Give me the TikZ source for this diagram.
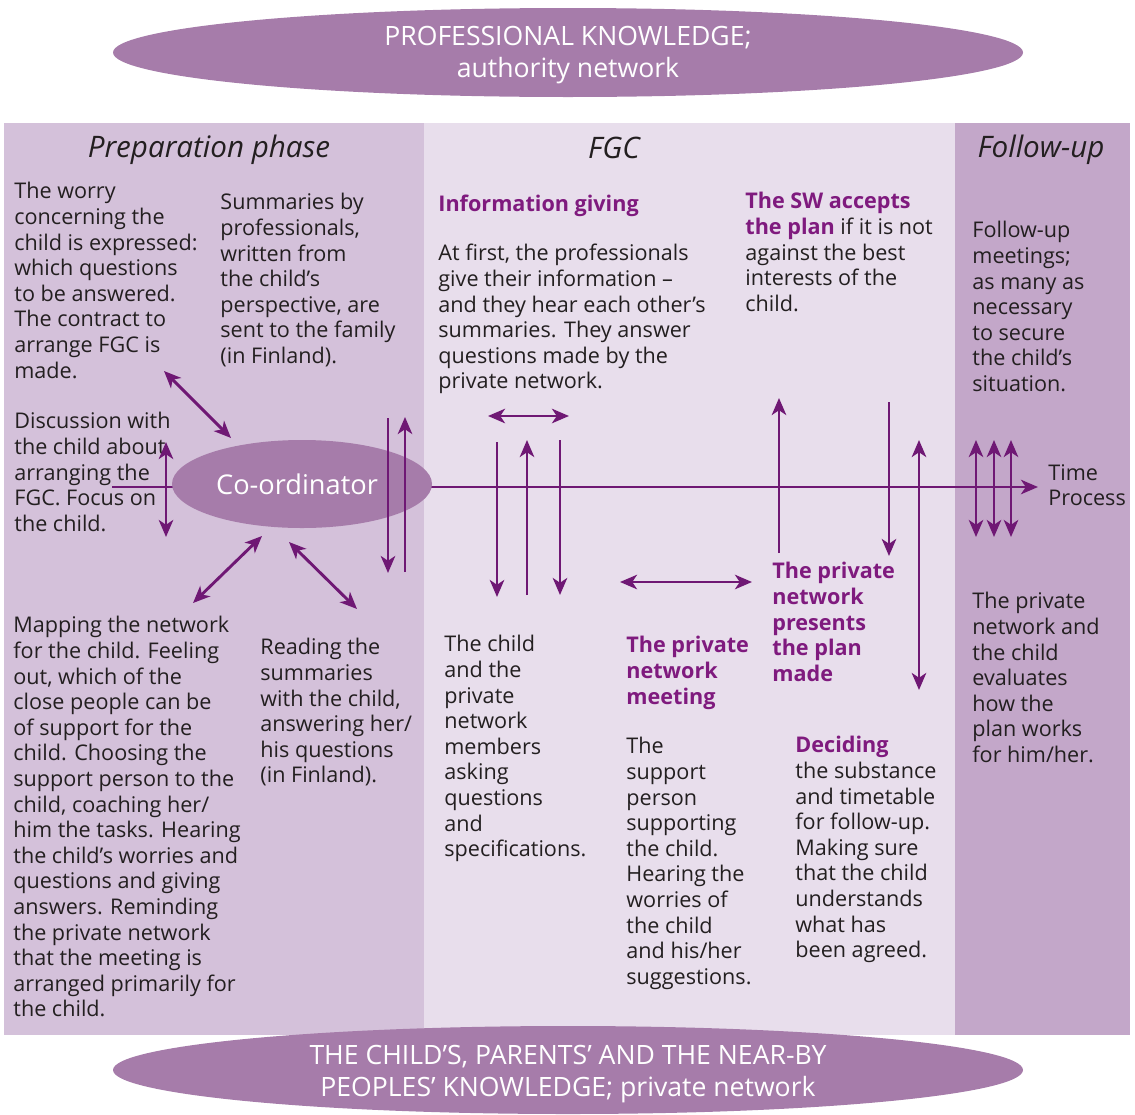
\documentclass[tikz,border=0pt]{standalone}
\usepackage{fontspec}
\setmainfont{Open Sans}
\usetikzlibrary{arrows.meta,positioning,shapes.geometric}
\definecolor{leftbg}{HTML}{D4C1DA}
\definecolor{midbg}{HTML}{E8DEEC}
\definecolor{rightbg}{HTML}{C3A7C9}
\definecolor{ovalfill}{HTML}{A67CAA}
\definecolor{arrowcol}{HTML}{6F1874}
\definecolor{hlcol}{HTML}{7F1A7E}
\definecolor{ink}{HTML}{231F20}
\newcommand{\bodyfont}{\fontsize{10.8}{12.8}\selectfont}
\newcommand{\phasefont}{\fontsize{14.8}{16}\selectfont\itshape}
\newcommand{\ovalfont}{\fontsize{13.3}{16}\selectfont}
\newcommand{\purplebf}[1]{{\bfseries\color{hlcol}#1}}

\begin{document}
\begin{tikzpicture}[
    x=0.5pt, y=-0.5pt,
    phase/.style={anchor=base, inner sep=0pt, font=\phasefont, text=ink},
    txt/.style={anchor=north west, align=left, inner sep=0pt, yshift=-1pt,
        font=\bodyfont, text=ink, execute at begin node=\strut},
    oval/.style={ellipse, fill=ovalfill, inner sep=0pt},
    ovaltext/.style={align=center, inner sep=0pt, text=white, font=\ovalfont},
    arrow/.style={-{Stealth[length=8.5pt,width=7.2pt,inset=2.4pt]},
        line width=1.45pt, color=arrowcol},
    dblarrow/.style={arrow,
        {Stealth[length=8.5pt,width=7.2pt,inset=2.4pt]}-{Stealth[length=8.5pt,width=7.2pt,inset=2.4pt]}}
]
\useasboundingbox (0,0) rectangle (1135,1114);

% Phase panels
\fill[leftbg] (4,123) rectangle (424,1035);
\fill[midbg] (424,123) rectangle (955,1035);
\fill[rightbg] (955,123) rectangle (1130,1035);

% Knowledge ovals
\node[oval, minimum width=455pt, minimum height=44.5pt] (prof) at (568,52.5) {};
\node[ovaltext] (proftext) at ([yshift=-1.5pt]prof.center)
    {PROFESSIONAL KNOWLEDGE;\\authority network};
\node[oval, minimum width=455pt, minimum height=44pt] (priv) at (568,1070) {};
\node[ovaltext] (privtext) at ([yshift=-2pt]priv.center)
    {THE CHILD'S, PARENTS' AND THE NEAR-BY\\PEOPLES' KNOWLEDGE; private network};

% Headings
\node[phase] (prep) at (209,157) {Preparation phase};
\node[phase] (fgc) at (614,158) {FGC};
\node[phase] (follow) at (1041,157) {Follow-up};

% Time line
\coordinate (tstart) at (112,487);
\coordinate (tend) at (1038,487);
\draw[arrow] (tstart) -- (tend);

\node[oval, minimum width=130pt, minimum height=44pt] (coord) at (302,484) {};
\node[ovaltext, font=\fontsize{13.6}{16}\selectfont] (coordtext) at ([xshift=-2.5pt]coord.center)
    {Co-ordinator};

% Preparation texts
\node[txt] (worry) at (14,180) {The worry\\concerning the\\child is expressed:\\which questions\\to be answered.\\The contract to\\arrange FGC is\\made.};
\node[txt] (summ) at (220,191) {Summaries by\\professionals,\\written from\\the child's\\perspective, are\\sent to the family\\(in Finland).};
\node[txt] (discuss) at (14,410) {Discussion with\\the child about\\arranging the\\FGC. Focus on\\the child.};
\node[txt] (mapping) at (13,614) {Mapping the network\\for the child. Feeling\\out, which of the\\close people can be\\of support for the\\child. Choosing the\\support person to the\\child, coaching her/\\him the tasks. Hearing\\the child's worries and\\questions and giving\\answers. Reminding\\the private network\\that the meeting is\\arranged primarily for\\the child.};
\node[txt] (reading) at (260,636) {Reading the\\summaries\\with the child,\\answering her/\\his questions\\(in Finland).};

% FGC texts
\node[txt] (info) at (438,191) {\purplebf{Information giving}};
\node[txt] (first) at (438,242) {At first, the professionals\\give their information --\\and they hear each other's\\summaries. They answer\\questions made by the\\private network.};
\node[txt] (accept) at (745,190) {\purplebf{The SW accepts}\\\purplebf{the plan} if it is not\\against the best\\interests of the\\child.};
\node[txt] (asking) at (444,633) {The child\\and the\\private\\network\\members\\asking\\questions\\and\\specifications.};
\node[txt] (meeting) at (626,634) {\purplebf{The private}\\\purplebf{network}\\\purplebf{meeting}};
\node[txt] (support) at (626,735) {The\\support\\person\\supporting\\the child.\\Hearing the\\worries of\\the child\\and his/her\\suggestions.};
\node[txt] (presents) at (772,560) {\purplebf{The private}\\\purplebf{network}\\\purplebf{presents}\\\purplebf{the plan}\\\purplebf{made}};
\node[txt] (deciding) at (795,734) {\purplebf{Deciding}\\the substance\\and timetable\\for follow-up.\\Making sure\\that the child\\understands\\what has\\been agreed.};

% Follow-up texts
\node[txt] (meetings) at (972,219) {Follow-up\\meetings;\\as many as\\necessary\\to secure\\the child's\\situation.};
\node[txt] (time) at (1048,462) {Time\\Process};
\node[txt] (evaluates) at (972,590) {The private\\network and\\the child\\evaluates\\how the\\plan works\\for him/her.};

% Arrows around the co-ordinator
\foreach \n/\xa/\ya/\xb/\yb in {a/164/371/231/438, b/262/536/193/603,
    c/289/542/357/609, d/166/442/166/537, e/488/416/569/416,
    f/620/582/752/582, g/919/440/919/690, h/976/440/976/537,
    i/994/440/994/537, j/1011/440/1011/537} {
  \coordinate (\n1) at (\xa,\ya);
  \coordinate (\n2) at (\xb,\yb);
  \draw[dblarrow] (\n1) -- (\n2);
}

% One-way arrows
\foreach \n/\xa/\ya/\xb/\yb in {k/388/418/388/573, l/405/572/405/417,
    m/497/442/497/597, n/527/595/527/440, o/560/440/560/595,
    p/779/553/779/398, q/889/402/889/556} {
  \coordinate (\n1) at (\xa,\ya);
  \coordinate (\n2) at (\xb,\yb);
  \draw[arrow] (\n1) -- (\n2);
}

\end{tikzpicture}
\end{document}
